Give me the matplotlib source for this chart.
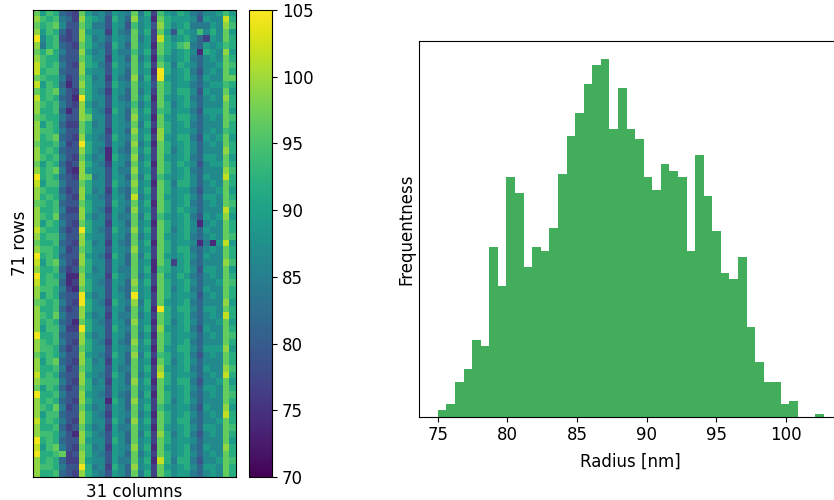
import numpy as np
import matplotlib
matplotlib.use("Agg")
import matplotlib.pyplot as plt

# heatmap cells, one hex digit per cell (0 -> ~69, 7/8 -> ~88, f -> ~107), read row by row
levels = "0123456789abcdef"
grid_rows = [
    "b8a9 543b 8675 876b 693a 8798 6577 8a8",
    "ca9a 653c 9874 975c 782b 9888 7487 7d9",
    "b9ab 744b 9664 874a 784c 9789 6668 7ca",
    "c8a9 534c 8773 865b 793b 8498 7a79 7b8",
    "e79a 434c 9675 876b 683d 9789 7538 7b9",
    "c69a 543b 9764 975b 782b 98ab 6587 8a9",
    "b9b9 644c 8674 866a 793b 9789 7298 7c8",
    "ca99 544b 9773 875b 682a 8789 6578 7b9",
    "da9a 643c 9864 976b 793b 9698 7577 8ba",
    "d9aa 544c 8774 875b 782e 9789 6478 7b9",
    "ba99 634b 9673 865c 693e 8789 7587 7bb",
    "d8a9 524c 9774 976b 784b 9788 6578 8a9",
    "b9ab 643b 9763 875b 683b 9799 7487 7b8",
    "d9a9 542e 9774 865b 792b 8789 6578 7c9",
    "ca9a 643c 8674 876a 683b 9689 7577 7b9",
    "c99a 524c 9763 975b 793a 9788 6488 8b8",
    "ba99 644c b774 875c 782b 8799 7578 7ba",
    "c8a9 533b 9674 876b 693b 9789 6577 7b9",
    "caa9 644b 9773 875c 782c 9788 7578 7a9",
    "c9ab 543c 8764 976b 793c 8799 6487 8b8",
    "b99a 634e 9774 875c 682b 9789 7578 7b9",
    "c9a9 544c 9762 865b 793b 9689 7577 7c9",
    "ca9a 643b 8672 976c 683b 8789 6588 7b8",
    "b8a9 534c 9763 875b 792b 9798 7478 8b9",
    "c9ab 632c 8774 866c 783b 9789 6577 7ca",
    "e9a9 543c b674 875b 693a 8789 7587 7d9",
    "d8aa 644b 9774 976c 782b 9699 7578 7b9",
    "ca99 534c 9673 865b 793b 9788 6477 8b8",
    "c9a9 643c 8764 875d 683b 8789 7588 7b9",
    "ba9a 544b 9774 976b 792b 9789 6578 7ba",
    "c99a 633c 9763 875c 783b 9798 7577 7d9",
    "ca9b 544c 8674 866b 693a 8789 6487 8c8",
    "c8a9 643b 9773 875b 782b 9789 7278 7b9",
    "da99 534e 9764 976c 793b 9689 7587 7b9",
    "c9aa 644c 8774 875b 683b 8789 6578 7ba",
    "b99a 543c 9673 865b 792b 9788 7262 8d8",
    "caa9 634b 9774 876c 783b 9799 6578 7b9",
    "e9a9 544c 8763 975b 693b 8789 7587 7b9",
    "d8ab 643c 9774 875b 782b 9389 6577 7ca",
    "c99a 534b 9674 866b 792a 9789 7488 7b8",
    "e9a9 622c 8773 976b 683b 8798 6578 7b9",
    "d9aa 523c 9764 875c 793b 9789 7577 8ba",
    "caa9 632b 9774 865b 782b 9689 6587 7b9",
    "c8a9 544e 8674 875e 783b 9788 7478 7b9",
    "ba9a 643e 9763 976c 693b 8789 6577 7c8",
    "c99a 534c 9774 875b 792e 9799 7588 7b9",
    "ca9b 644c 8673 866b 683b 9789 6578 7d9",
    "c9a9 542b 9764 875c 782b 9689 7577 8b8",
    "c8aa 633e 9774 976b 793c 8789 6487 7b9",
    "e99a 544c 8674 875b 682b 9788 7578 7ba",
    "ca9a 643c 9763 865c 793b 9789 6577 7b9",
    "caa9 534b 9774 876b 782b 8799 7588 8c8",
    "b9a9 644c 8764 975c 693a 9789 6478 7b9",
    "c8ab 543c 9673 875b 782b 9689 7577 7b9",
    "c99a 634b 9774 866b 793c 8789 6587 7ca",
    "d9a9 544c 8764 975b 683d 9788 7578 7d9",
    "caaa 643c 9673 875c 792b 9799 6477 8b8",
    "b8a9 534b 9774 876b 783b 8789 7588 7b9",
    "e99a 644c 8764 865b 692b 9789 6578 7ba",
    "c9a9 543c 9772 975c 783b 9689 7577 7b9",
    "ca9b 634b 8674 875b 793a 8788 6487 7c8",
    "c8aa 544c 9763 876b 682b 9789 7578 7d9",
    "d9a9 643c 9774 975c 793b 9799 6577 8b9",
    "c99a 534b 8673 866b 782b 8789 7588 7ba",
    "caa9 642c 9764 875b 693c 9689 6478 7b9",
    "e9a9 544c 8774 975b 783b 9788 7577 7b8",
    "d8ab 643b 9673 876c 792b 8789 6587 7c9",
    "e99a b34c 9764 875b 683b 9789 7578 7b9",
    "c9a9 533c 8774 866b 792d 9699 6477 8ba",
    "caa9 644e 9673 975c 783b 8789 7588 7b9",
    "c99a 543c 9764 875b 693b 9788 6578 7b9",
]

# histogram of radii: 45 bins between r_min and r_max
r_min, r_max = 75.0, 102.73
counts = [2, 4, 11, 15, 24, 22, 53, 41, 75, 70, 47, 53, 52, 59, 76,
          88, 95, 104, 110, 112, 90, 103, 90, 87, 75, 71, 79, 77, 75, 52,
          82, 69, 58, 45, 43, 50, 28, 17, 11, 11, 4, 5, 0, 0, 1]

data = np.array([[88 + 2.5 * (levels.index(ch) - 7.5)
                  for ch in row.replace(" ", "")] for row in grid_rows])
assert data.shape == (71, 31), data.shape

plt.rcParams['font.size'] = 12

fig = plt.figure(figsize=(8.34, 5), dpi=100)

ax1 = fig.add_axes([0.0396, 0.046, 0.2434, 0.934])
im = ax1.imshow(data, cmap='viridis', vmin=70, vmax=105, aspect='auto',
                interpolation='nearest')
ax1.set_xticks([])
ax1.set_yticks([])
ax1.set_xlabel('31 columns', labelpad=4)
ax1.set_ylabel('71 rows', labelpad=3)

cax = fig.add_axes([0.2986, 0.046, 0.0276, 0.934])
cb = fig.colorbar(im, cax=cax)
cb.set_ticks(np.arange(70, 106, 5))
cb.outline.set_linewidth(0.8)

ax2 = fig.add_axes([0.5019, 0.1666, 0.509, 0.7514])
edges = np.linspace(r_min, r_max, len(counts) + 1)
centers = (edges[:-1] + edges[1:]) / 2
ax2.hist(centers, bins=edges, weights=counts, color='#42ae5b')
ax2.set_yticks([])
ax2.set_xticks([75, 80, 85, 90, 95, 100])
ax2.set_xlabel('Radius [nm]', labelpad=6)
ax2.set_ylabel('Frequentness', labelpad=2)

fig.savefig('out.png', dpi=100)
